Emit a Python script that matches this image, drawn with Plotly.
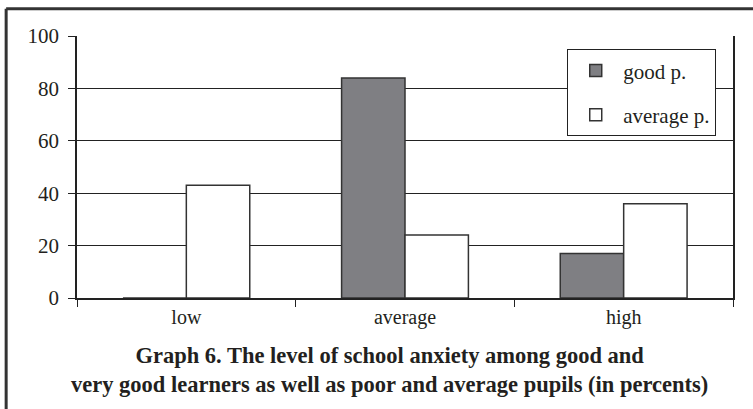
import plotly.graph_objects as go

categories = ["low", "average", "high"]
good_p = [0, 84, 17]
average_p = [43, 24, 36]
series_names = ["good p.", "average p."]
y_ticks = [0, 20, 40, 60, 80, 100]
title_lines = ["Graph 6. The level of school anxiety among good and",
               "very good learners as well as poor and average pupils (in percents)"]

FONT = "Liberation Serif"
INK = "#231f20"

fig = go.Figure()
fig.add_trace(go.Bar(x=categories, y=good_p, name=series_names[0], legendgroup="a",
                     marker=dict(color="#7f7f83", line=dict(color="#333333", width=1.5))))
fig.add_trace(go.Bar(x=categories, y=average_p, name=series_names[1], legendgroup="b",
                     marker=dict(color="#ffffff", line=dict(color="#333333", width=1.5))))

fig.update_layout(
    width=753, height=409,
    margin=dict(l=77, r=20, t=36, b=111),
    paper_bgcolor="white", plot_bgcolor="white",
    barmode="group", bargap=0.42, bargroupgap=0,
    font=dict(family=FONT, size=20, color=INK),
    showlegend=True,
    legend=dict(x=0.747, y=0.95, xanchor="left", yanchor="top",
                bordercolor="#222", borderwidth=1.2, bgcolor="white",
                font=dict(family=FONT, size=21, color=INK),
                tracegroupgap=14, itemwidth=45),
    xaxis=dict(type="category", tickson="boundaries", ticks="outside", ticklen=7,
               tickcolor="#222", tickwidth=1, showline=True, linecolor="#222",
               linewidth=2, mirror=False, showgrid=False,
               tickfont=dict(family=FONT, size=20, color=INK)),
    yaxis=dict(range=[0, 100], tickvals=y_ticks, ticks="outside", ticklen=7,
               tickcolor="#222", showgrid=True, gridcolor="#222", gridwidth=1,
               showline=True, linecolor="#222", linewidth=1.5, mirror=True,
               zeroline=False, ticklabelstandoff=5,
               tickfont=dict(family=FONT, size=21, color=INK)),
)

fig.add_annotation(text="<b>" + title_lines[0] + "</b><br><b>" + title_lines[1] + "</b>",
                   xref="paper", yref="paper", x=0.477, y=-0.163, xanchor="center", yanchor="top",
                   showarrow=False, align="center",
                   font=dict(family=FONT, size=22.5, color=INK))

# outer frame (left and top edges of the cropped box)
fig.add_shape(type="line", xref="paper", yref="paper", x0=-0.108, x1=-0.108, y0=-0.45, y1=1.104,
              line=dict(color="#333", width=3))
fig.add_shape(type="line", xref="paper", yref="paper", x0=-0.108, x1=1.04, y0=1.104, y1=1.104,
              line=dict(color="#333", width=3))

fig.write_html("out.html", config={"displayModeBar": False},
               post_script="document.body.style.margin='0';")
